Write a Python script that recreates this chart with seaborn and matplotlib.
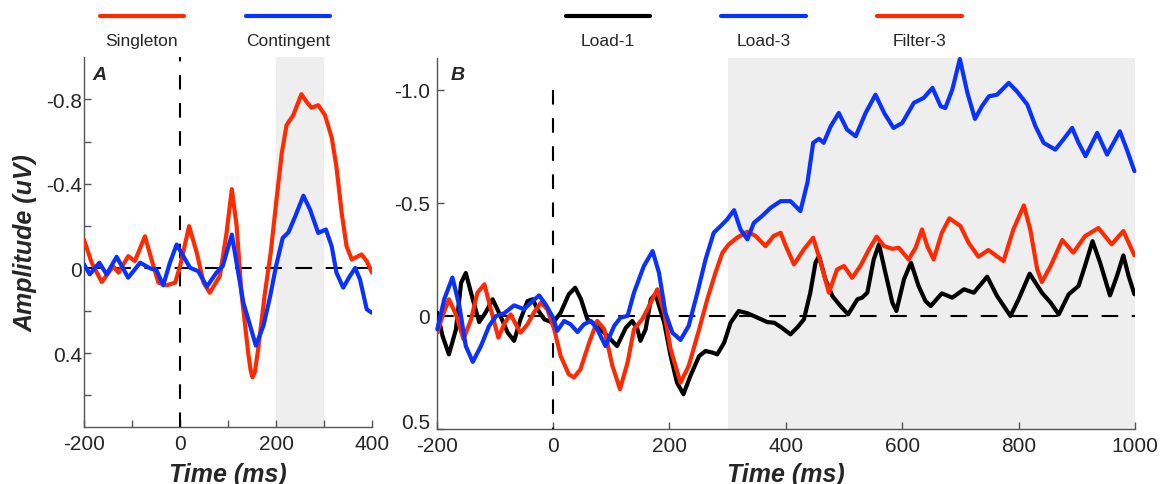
import matplotlib
matplotlib.use("Agg")
import matplotlib.pyplot as plt
import seaborn as sns
from matplotlib.lines import Line2D

sns.set_style("white")
plt.rcParams['font.family'] = ['Liberation Sans', 'DejaVu Sans']
plt.rcParams['axes.unicode_minus'] = False

RED = "#ff2a00"
BLUE = "#0a32ff"
BLACK = "#000000"
SHADE = "#eeeeee"
AXIS = "#555555"

### Panel A data (ms, uV)
a_single_t = [-200, -184, -163, -139, -128, -108, -94, -73, -59, -45, -28, -10, 0, 19, 35, 49, 62, 83, 97, 108,
              118, 128, 142, 147, 151, 156, 163, 177, 189, 201, 212, 222, 236, 253, 264, 274, 288, 302, 316, 326,
              337, 347, 358, 378, 389, 400]
a_single_v = [-0.136, -0.027, 0.064, -0.01, 0.02, -0.058, -0.035, -0.152, -0.04, 0.067, 0.08, 0.067, -0.01, -0.2,
              -0.074, 0.067, 0.115, 0.036, -0.168, -0.375, -0.2, 0.115, 0.397, 0.48, 0.515, 0.49, 0.38, 0.115,
              -0.074, -0.325, -0.544, -0.678, -0.725, -0.824, -0.787, -0.76, -0.772, -0.725, -0.62, -0.48, -0.26,
              -0.105, -0.042, -0.066, -0.035, 0.02]
a_cont_t = [-200, -188, -168, -153, -132, -108, -83, -62, -49, -35, -21, -7, 3, 21, 38, 56, 76, 89, 108, 119,
            132, 146, 158, 174, 188, 200, 214, 226, 240, 257, 271, 288, 304, 316, 326, 340, 354, 365, 375, 389, 399]
a_cont_v = [-0.019, 0.028, -0.027, 0.028, -0.055, 0.044, -0.027, 0.0, 0.008, 0.08, -0.027, -0.113, -0.074, -0.003,
            0.013, 0.086, 0.02, -0.011, -0.16, -0.011, 0.162, 0.27, 0.365, 0.27, 0.13, -0.011, -0.144, -0.171,
            -0.246, -0.344, -0.278, -0.168, -0.184, -0.105, 0.02, 0.091, 0.036, -0.002, 0.052, 0.193, 0.209]

### Panel B data (ms, uV)
b_load1_t = [-199, -190, -179, -167, -158, -150, -138, -127, -116, -104, -93, -78, -67, -56, -44, -35, -27, -15, 0, 13,
             27, 38, 48, 59, 76, 93, 110, 125, 136, 145, 150, 159, 168, 176, 191, 202, 213, 224, 236, 251,
             262, 274, 282, 294, 305, 319, 334, 351, 368, 380, 392, 408, 420, 431, 442, 451, 457, 468, 480, 494,
             507, 523, 531, 540, 551, 560, 571, 583, 590, 603, 615, 628, 640, 649, 668, 686, 706, 723, 746, 763,
             786, 800, 819, 840, 855, 869, 886, 903, 914, 927, 940, 957, 969, 980, 989, 999]
b_load1_v = [-0.015, 0.088, 0.17, 0.06, -0.147, -0.19, -0.074, 0.027, -0.015, -0.074,
             -0.015, 0.074, 0.11, 0.015, -0.066, -0.074, -0.03, 0.015, 0.03, -0.015,
             -0.096, -0.125, -0.074, 0.015, 0.044, 0.088, 0.133, 0.052, 0.022, 0.059,
             0.11, 0.059, -0.074, -0.096, 0.03, 0.177, 0.295, 0.346, 0.265, 0.177,
             0.155, 0.162, 0.17, 0.118, 0.03, -0.022, -0.012, 0.007, 0.027, 0.03,
             0.05, 0.081, 0.05, 0.015, -0.103, -0.236, -0.265, -0.162, -0.088, -0.044,
             -0.007, -0.074, -0.081, -0.103, -0.25, -0.317, -0.192, -0.059, -0.022, -0.162,
             -0.236, -0.133, -0.066, -0.044, -0.1, -0.081, -0.118, -0.103, -0.174, -0.088,
             0.0, -0.074, -0.187, -0.103, -0.059, -0.007, -0.096, -0.133, -0.221, -0.331,
             -0.236, -0.091, -0.177, -0.268, -0.177, -0.096]
b_load3_t = [-199, -187, -173, -161, -150, -138, -124, -110, -98, -84, -67, -50, -35, -24, -13, 0, 7, 19, 30, 42,
             53, 65, 76, 90, 105, 116, 128, 139, 156, 171, 182, 193, 205, 219, 233, 248, 262, 276, 288, 299,
             311, 322, 334, 345, 359, 374, 391, 408, 425, 437, 447, 457, 465, 477, 491, 505, 520, 537, 554, 569,
             585, 600, 620, 637, 652, 666, 674, 686, 699, 712, 725, 737, 749, 763, 783, 797, 815, 829, 843, 863,
             877, 892, 903, 915, 935, 952, 974, 986, 999]
b_load3_v = [0.059, -0.074, -0.17, -0.044, 0.133, 0.203, 0.133, 0.044, 0.0, -0.012,
             -0.047, -0.03, -0.066, -0.091, -0.052, 0.007, 0.066, 0.022, 0.037, 0.071,
             0.037, 0.022, 0.059, 0.133, 0.044, 0.007, 0.0, -0.103, -0.221, -0.287,
             -0.191, -0.015, 0.074, 0.106, 0.044, -0.103, -0.25, -0.368, -0.398, -0.427,
             -0.468, -0.383, -0.339, -0.412, -0.442, -0.479, -0.508, -0.508, -0.464, -0.589,
             -0.766, -0.784, -0.766, -0.839, -0.898, -0.825, -0.795, -0.898, -0.979, -0.898,
             -0.832, -0.854, -0.943, -0.965, -1.009, -0.928, -0.92, -1.001, -1.137, -0.987,
             -0.872, -0.928, -0.972, -0.979, -1.031, -0.994, -0.935, -0.839, -0.766, -0.736,
             -0.781, -0.832, -0.766, -0.707, -0.81, -0.714, -0.817, -0.736, -0.641]
b_filter3_t = [-199, -190, -179, -167, -154, -141, -130, -118, -107, -94, -83, -73, -64, -56, -44, -33, -21, -10, 2, 13,
               27, 36, 47, 62, 76, 88, 102, 115, 128, 139, 153, 165, 179, 191, 202, 219, 233, 251, 265, 279,
               291, 302, 316, 334, 348, 365, 379, 391, 400, 414, 431, 447, 460, 474, 488, 500, 514, 528, 543, 556,
               569, 583, 594, 611, 623, 634, 643, 654, 668, 681, 700, 714, 731, 748, 774, 791, 809, 820, 832, 840,
               855, 875, 894, 914, 937, 960, 980, 999]
b_filter3_v = [0.074, 0.0, -0.074, -0.007, 0.103, 0.015, -0.103, -0.14, -0.03, 0.096,
               0.03, -0.007, 0.037, 0.074, 0.037, -0.015, -0.059, -0.03, 0.059, 0.177,
               0.258, 0.272, 0.236, 0.118, 0.022, 0.059, 0.221, 0.324, 0.206, 0.059,
               0.015, -0.044, -0.118, -0.015, 0.147, 0.295, 0.221, 0.059, -0.074, -0.191,
               -0.28, -0.317, -0.346, -0.373, -0.354, -0.309, -0.354, -0.368, -0.309, -0.228,
               -0.295, -0.346, -0.236, -0.103, -0.206, -0.221, -0.169, -0.221, -0.295, -0.351,
               -0.309, -0.297, -0.302, -0.25, -0.302, -0.383, -0.309, -0.25, -0.368, -0.432,
               -0.398, -0.324, -0.262, -0.292, -0.243, -0.383, -0.489, -0.383, -0.206, -0.15,
               -0.221, -0.336, -0.28, -0.353, -0.389, -0.317, -0.376, -0.268]

### ticks / labels
a_xticks = [-200, -100, 0, 100, 200, 300, 400]
a_xticklabels = ["-200", "", "0", "", "200", "", "400"]
a_yticks = [-0.8, -0.6, -0.4, -0.2, 0, 0.2, 0.4, 0.6]
a_yticklabels = ["-0.8", "", "-0.4", "", "0", "", "0.4", ""]
b_xticks = [-200, 0, 200, 400, 600, 800, 1000]
b_xticklabels = ["-200", "0", "200", "400", "600", "800", "1000"]
b_yticks = [-1.0, -0.5, 0, 0.5]
b_yticklabels = ["-1.0", "-0.5", "0", "0.5"]

a_labels = ["Singleton", "Contingent"]
a_colors = [RED, BLUE]
b_labels = ["Load-1", "Load-3", "Filter-3"]
b_colors = [BLACK, BLUE, RED]

W, H = 1162, 485
fig = plt.figure(figsize=(W / 100, H / 100), dpi=100)


def px_axes(l, t, r, b):
    return fig.add_axes([l / W, 1 - b / H, (r - l) / W, (b - t) / H])


axA = px_axes(84, 58, 372, 428)
axB = px_axes(436.7, 59.3, 1135, 430)

vdash = (0, (7, 6.5))
hdash = (0, (8, 6.5))
line_kw = dict(linewidth=3, solid_joinstyle="round", solid_capstyle="round")

## Panel A
axA.axvspan(200, 300, color=SHADE, lw=0, zorder=0)
axA.axvline(0, color="k", lw=1.5, ls=vdash, zorder=1)
axA.axhline(0, color="k", lw=1.5, ls=hdash, zorder=1)
sns.lineplot(x=a_single_t, y=a_single_v, ax=axA, color=RED, zorder=3, **line_kw)
sns.lineplot(x=a_cont_t, y=a_cont_v, ax=axA, color=BLUE, zorder=4, **line_kw)
axA.set_xlim(-200, 400)
axA.set_ylim(0.75, -1.0)
axA.set_xticks(a_xticks)
axA.set_xticklabels(a_xticklabels)
axA.set_yticks(a_yticks)
axA.set_yticklabels(a_yticklabels)
axA.tick_params(axis="y", pad=1.5)

## Panel B
axB.axvspan(300, 1000, color=SHADE, lw=0, zorder=0)
axB.plot([0, 0], [-1.0, 0.5], color="k", lw=1.5, ls=vdash, zorder=1)
axB.axhline(0, color="k", lw=1.5, ls=hdash, zorder=1)
sns.lineplot(x=b_load1_t, y=b_load1_v, ax=axB, color=BLACK, zorder=3, **line_kw)
sns.lineplot(x=b_filter3_t, y=b_filter3_v, ax=axB, color=RED, zorder=4, **line_kw)
sns.lineplot(x=b_load3_t, y=b_load3_v, ax=axB, color=BLUE, zorder=5, clip_on=False, **line_kw)
axB.set_xlim(-200, 1000)
axB.set_ylim(0.5, -1.14)
axB.set_xticks(b_xticks)
axB.set_xticklabels(b_xticklabels)
axB.set_yticks(b_yticks)
# bottom label ("0.5") is written separately, a little higher, like the original
axB.set_yticklabels(b_yticklabels[:-1] + [""])
axB.annotate(b_yticklabels[-1], xy=(0, b_yticks[-1]), xycoords=axB.get_yaxis_transform(),
             xytext=(-5, 4.5), textcoords="offset points", ha="right", va="center", fontsize=15)
axB.tick_params(axis="y", pad=5)

for ax in (axA, axB):
    sns.despine(ax=ax)
    for s in ("left", "bottom"):
        ax.spines[s].set_color(AXIS)
        ax.spines[s].set_linewidth(1)
    ax.tick_params(direction="in", length=5, width=1, color=AXIS, labelsize=15, left=True, bottom=True)
    ax.tick_params(axis="x", pad=5)
    ax.set_xlabel("Time (ms)", fontsize=18, fontweight="bold", fontstyle="italic")
    ax.set_ylabel("")

axA.xaxis.set_label_coords(0.5, (428 - 463) / 370)
axB.xaxis.set_label_coords(0.5, (430 - 463) / 370.7)
axA.set_ylabel("Amplitude (uV)", fontsize=18, fontweight="bold", fontstyle="italic")
axA.yaxis.set_label_coords((38 - 84) / 288, 0.5)

axA.text(0.028, 0.976, "A", transform=axA.transAxes, fontsize=14, fontweight="bold",
         fontstyle="italic", va="top")
axB.text(0.02, 0.979, "B", transform=axB.transAxes, fontsize=14, fontweight="bold",
         fontstyle="italic", va="top")

## Legends: line on top, label underneath
a_leg_x = [(100, 184), (246, 330)]
b_leg_x = [(565.7, 650), (721, 805.7), (876.7, 961.7)]
for (x0, x1), lab_txt, col in list(zip(a_leg_x, a_labels, a_colors)) + list(zip(b_leg_x, b_labels, b_colors)):
    fig.add_artist(Line2D([x0 / W, x1 / W], [1 - 17.3 / H] * 2, color=col, lw=3,
                          transform=fig.transFigure))
    fig.text((x0 + x1) / 2 / W, 1 - 46 / H, lab_txt, ha="center", va="baseline", fontsize=12.5)

fig.savefig("out.png", dpi=100)
